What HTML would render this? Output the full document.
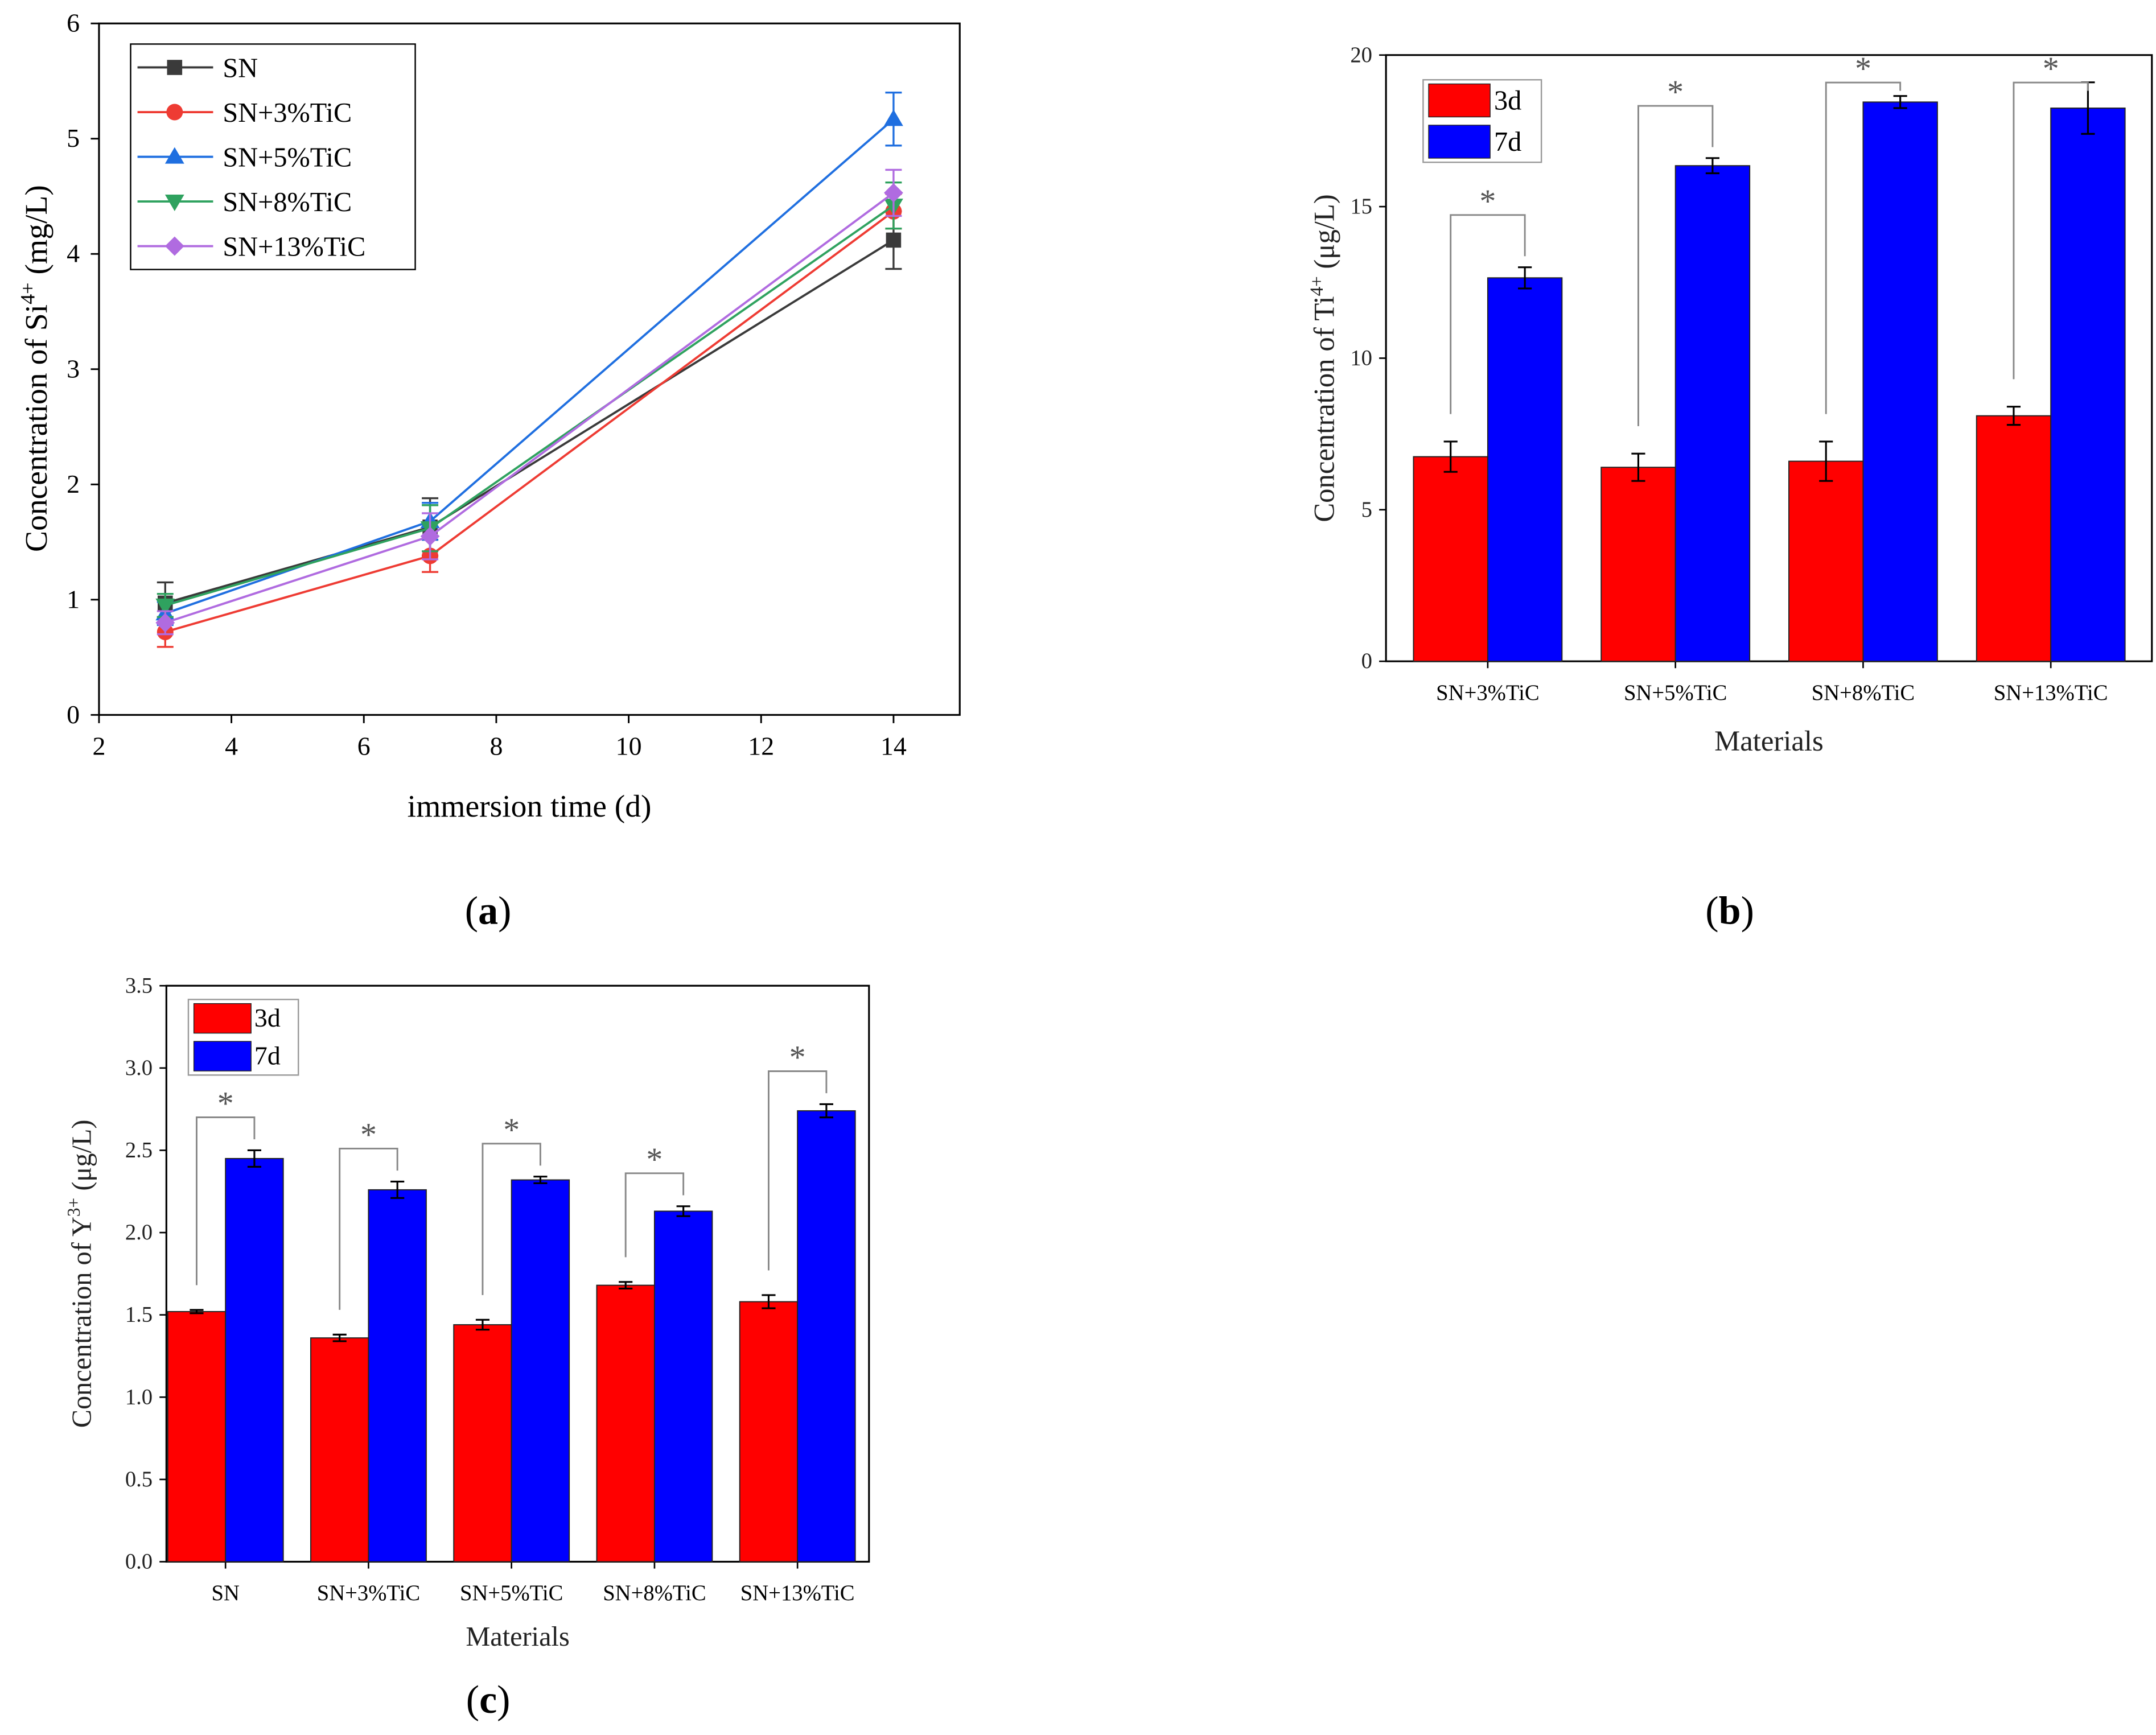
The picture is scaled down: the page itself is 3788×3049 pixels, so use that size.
<!DOCTYPE html>
<html><head><meta charset="utf-8">
<style>
html,body{margin:0;padding:0;background:#fff;}
svg{display:block;}
text{font-family:"Liberation Serif",serif;}
</style></head>
<body>
<svg id="fig" width="3788" height="3049" viewBox="0 0 1568 1262" xmlns="http://www.w3.org/2000/svg"></svg>
<script>
// ---- Chart (a) data ----
const aX = [3, 7, 14];
const aSeriesNames = ["SN","SN+3%TiC","SN+5%TiC","SN+8%TiC","SN+13%TiC"];
const aSN = [0.97, 1.63, 4.12];
const aSN3 = [0.72, 1.38, 4.37];
const aSN5 = [0.88, 1.68, 5.17];
const aSN8 = [0.95, 1.62, 4.42];
const aSN13 = [0.80, 1.55, 4.53];
const aErrSN = [0.18, 0.25, 0.25];
const aErrSN3 = [0.13, 0.14, 0.15];
const aErrSN5 = [0.10, 0.16, 0.23];
const aErrSN8 = [0.10, 0.20, 0.20];
const aErrSN13 = [0.10, 0.20, 0.20];
const aXTicks = [2,4,6,8,10,12,14];
const aYTicks = [0,1,2,3,4,5,6];
// ---- Chart (b) data ----
const bCats = ["SN+3%TiC","SN+5%TiC","SN+8%TiC","SN+13%TiC"];
const b3d = [6.75, 6.4, 6.6, 8.1];
const b7d = [12.65, 16.35, 18.45, 18.25];
const b3dErr = [0.5, 0.45, 0.65, 0.3];
const b7dErr = [0.35, 0.25, 0.2, 0.85];
const bYTicks = [0,5,10,15,20];
// ---- Chart (c) data ----
const cCats = ["SN","SN+3%TiC","SN+5%TiC","SN+8%TiC","SN+13%TiC"];
const c3d = [1.52, 1.36, 1.44, 1.68, 1.58];
const c7d = [2.45, 2.26, 2.32, 2.13, 2.74];
const c3dErr = [0.01, 0.02, 0.03, 0.02, 0.04];
const c7dErr = [0.05, 0.05, 0.02, 0.03, 0.04];
const cYTicks = [0,0.5,1.0,1.5,2.0,2.5,3.0,3.5];

const NS="http://www.w3.org/2000/svg";
const svg=document.getElementById('fig');
function el(tag,attrs,parent,txt){
  const e=document.createElementNS(NS,tag);
  for(const k in attrs)e.setAttribute(k,attrs[k]);
  if(txt!==undefined)e.textContent=txt;
  (parent||svg).appendChild(e);return e;
}
function grp(name){const g=el('g',{});return g;}

// ================= Chart A =================
(function(){
  const L=72,R=698,T=17,B=520;
  const xs=v=>L+(v-2)/(15-2)*(R-L);
  const ys=v=>B-v/6*(B-T);
  const g=grp('chart-a');
  const frame=el('rect',{x:L,y:T,width:R-L,height:B-T,fill:'none',stroke:'#000','stroke-width':1.3},g);
  
  aXTicks.forEach(t=>{
    el('line',{x1:xs(t),x2:xs(t),y1:B,y2:B+6,stroke:'#000','stroke-width':1.2},g);
    const tx=el('text',{x:xs(t),y:B+29,'font-size':19,'text-anchor':'middle'},g,String(t));
    
  });
  aYTicks.forEach(t=>{
    el('line',{x1:L-6,x2:L,y1:ys(t),y2:ys(t),stroke:'#000','stroke-width':1.2},g);
    const tx=el('text',{x:L-14,y:ys(t)+6,'font-size':19,'text-anchor':'end'},g,String(t));
    
  });
  const xt=el('text',{x:385,y:594,'font-size':23,'text-anchor':'middle'},g,'immersion time (d)');
  
  const yt=el('text',{transform:'translate(34,268) rotate(-90)','font-size':23,'text-anchor':'middle'},g);
  
  el('tspan',{},yt,'Concentration of Si');
  el('tspan',{dy:-9,'font-size':15},yt,'4+');
  el('tspan',{dy:9},yt,' (mg/L)');

  const series=[aSN,aSN3,aSN5,aSN8,aSN13];
  const errs=[aErrSN,aErrSN3,aErrSN5,aErrSN8,aErrSN13];
  const colors=['#3a3a3a','#ee3b33','#1f6fe0','#2fa25f','#b06be0'];
  const markers=['square','circle','tri-up','tri-down','diamond'];
  function marker(type,x,y,c,parent){
    let m;
    if(type==='square')m=el('rect',{x:x-5.5,y:y-5.5,width:11,height:11,fill:c},parent);
    else if(type==='circle')m=el('circle',{cx:x,cy:y,r:6,fill:c},parent);
    else if(type==='tri-up')m=el('polygon',{points:`${x},${y-7} ${x-7},${y+5} ${x+7},${y+5}`,fill:c},parent);
    else if(type==='tri-down')m=el('polygon',{points:`${x},${y+7} ${x-7},${y-5} ${x+7},${y-5}`,fill:c},parent);
    else m=el('polygon',{points:`${x},${y-7} ${x+7},${y} ${x},${y+7} ${x-7},${y}`,fill:c},parent);
    return m;
  }
  series.forEach((s,i)=>{
    const sg=el('g',{},g);
    
    
    const pts=s.map((v,j)=>xs(aX[j])+','+ys(v)).join(' ');
    const pl=el('polyline',{points:pts,fill:'none',stroke:colors[i],'stroke-width':1.6},sg);
    
    s.forEach((v,j)=>{
      const x=xs(aX[j]),e=errs[i][j];
      el('line',{x1:x,x2:x,y1:ys(v-e),y2:ys(v+e),stroke:colors[i],'stroke-width':1.4},sg);
      el('line',{x1:x-6,x2:x+6,y1:ys(v-e),y2:ys(v-e),stroke:colors[i],'stroke-width':1.4},sg);
      el('line',{x1:x-6,x2:x+6,y1:ys(v+e),y2:ys(v+e),stroke:colors[i],'stroke-width':1.4},sg);
      const m=marker(markers[i],x,ys(v),colors[i],sg);
      
    });
  });
  const lg=el('g',{},g);
  
  el('rect',{x:95,y:32,width:207,height:164,fill:'#fff',stroke:'#000','stroke-width':1},lg);
  aSeriesNames.forEach((n,i)=>{
    const y=49+i*32.5;
    const eg=el('g',{},lg);
    
    el('line',{x1:100,x2:155,y1:y,y2:y,stroke:colors[i],'stroke-width':1.6},eg);
    marker(markers[i],127,y,colors[i],eg);
    el('text',{x:162,y:y+7,'font-size':20,'font-family':'Liberation Sans, sans-serif'},eg,n);
  });
})();

// ================= Bar chart helper =================
function barChart(o){
  const g=grp(o.name);
  const {L,R,T,B,ymax}=o;
  const ys=v=>B-v/ymax*(B-T);
  const fr=el('rect',{x:L,y:T,width:R-L,height:B-T,fill:'none',stroke:'#000','stroke-width':1.3},g);
  
  o.yTicks.forEach(t=>{
    el('line',{x1:L-5,x2:L,y1:ys(t),y2:ys(t),stroke:'#000','stroke-width':1.1},g);
    const tx=el('text',{x:L-10,y:ys(t)+5,'font-size':o.tickFs,'text-anchor':'end','fill':'#222'},g,o.fmt(t));
    
  });
  const gw=o.gw;
  o.cats.forEach((c,i)=>{
    const cx=L+o.off+gw*i;
    el('line',{x1:cx,x2:cx,y1:B,y2:B+5,stroke:'#000','stroke-width':1.1},g);
    const tx=el('text',{x:cx,y:B+o.catDy,'font-size':o.tickFs,'text-anchor':'middle'},g,c);
    
    const bw=o.bw;
    [[o.d3,o.e3,'#ff0000',cx-bw,'bar-3d'],[o.d7,o.e7,'#0000ff',cx,'bar-7d']].forEach(([d,e,col,x,nm])=>{
      const v=d[i];
      const r=el('rect',{x:x,y:ys(v),width:bw,height:B-ys(v),fill:col,stroke:'#222','stroke-width':0.8},g);
      
      const mx=x+bw/2;
      el('line',{x1:mx,x2:mx,y1:ys(v-e[i]),y2:ys(v+e[i]),stroke:'#000','stroke-width':1.3},g);
      el('line',{x1:mx-5,x2:mx+5,y1:ys(v-e[i]),y2:ys(v-e[i]),stroke:'#000','stroke-width':1.3},g);
      el('line',{x1:mx-5,x2:mx+5,y1:ys(v+e[i]),y2:ys(v+e[i]),stroke:'#000','stroke-width':1.3},g);
    });
    const lx=cx-bw/2, rx=cx+bw/2;
    const redTop=ys(o.d3[i]+o.e3[i]), blueTop=ys(o.d7[i]+o.e7[i]);
    const top=Math.max(Math.min(blueTop-o.brGap, redTop-o.brGap), o.brMin);
    const br=el('polyline',{points:`${lx},${redTop-o.brLow} ${lx},${top} ${rx},${top} ${rx},${Math.max(blueTop-8,top+6)}`,fill:'none',stroke:'#888','stroke-width':1.2},g);
    
    const st=el('text',{x:cx,y:top-2,'font-size':o.starFs,'text-anchor':'middle','fill':'#555'},g,'*');
    
  });
  const xt=el('text',{x:(L+R)/2,y:B+o.xtDy,'font-size':o.titleFs,'text-anchor':'middle','fill':'#222'},g,'Materials');
  
  const yt=el('text',{transform:`translate(${o.ytX},${(T+B)/2}) rotate(-90)`,'font-size':o.titleFs,'text-anchor':'middle','fill':'#222'},g);
  
  el('tspan',{},yt,'Concentration of '+o.ion);
  el('tspan',{dy:-8,'font-size':o.titleFs*0.65},yt,o.sup);
  el('tspan',{dy:8},yt,' (\u03bcg/L)');
  const lg=el('g',{},g);
  
  const [lx,ly,lw,lh]=o.legend;
  el('rect',{x:lx,y:ly,width:lw,height:lh,fill:'#fff',stroke:'#999','stroke-width':1},lg);
  const rh=lh/2;
  [['3d','#ff0000'],['7d','#0000ff']].forEach(([t,c],k)=>{
    const eg=el('g',{},lg);
    
    el('rect',{x:lx+4,y:ly+3+k*rh,width:lw*0.52,height:rh-6,fill:c,stroke:'#222','stroke-width':0.6},eg);
    el('text',{x:lx+lw*0.6,y:ly+k*rh+rh*0.72,'font-size':o.titleFs-1},eg,t);
  });
}

barChart({name:'chart-b',L:1008,R:1565,T:40,B:481,ymax:20,yTicks:bYTicks,fmt:t=>String(t),
  cats:bCats,d3:b3d,d7:b7d,e3:b3dErr,e7:b7dErr,bw:54,off:74,gw:136.5,tickFs:16,catDy:28,xtDy:65,titleFs:21,ytX:970,
  ion:'Ti',sup:'4+',legend:[1035,58,86,60],brGap:38,brMin:60,brLow:20,starFs:24});

barChart({name:'chart-c',L:121,R:632,T:717,B:1136,ymax:3.5,yTicks:cYTicks,fmt:t=>t.toFixed(1),
  cats:cCats,d3:c3d,d7:c7d,e3:c3dErr,e7:c7dErr,bw:42,off:43,gw:104,tickFs:16,catDy:28,xtDy:61,titleFs:20,ytX:66,
  ion:'Y',sup:'3+',legend:[137,727,80,55],brGap:24,brMin:740,brLow:18,starFs:24});

[['(a)',355,672,'panel-label-a'],['(b)',1258,672,'panel-label-b'],['(c)',355,1246,'panel-label-c']].forEach(([t,x,y,n])=>{
  const tx=el('text',{x:x,y:y,'font-size':29,'text-anchor':'middle'},svg);
  
  el('tspan',{},tx,'(');
  el('tspan',{'font-weight':'bold'},tx,t[1]);
  el('tspan',{},tx,')');
});
</script>
</body></html>
